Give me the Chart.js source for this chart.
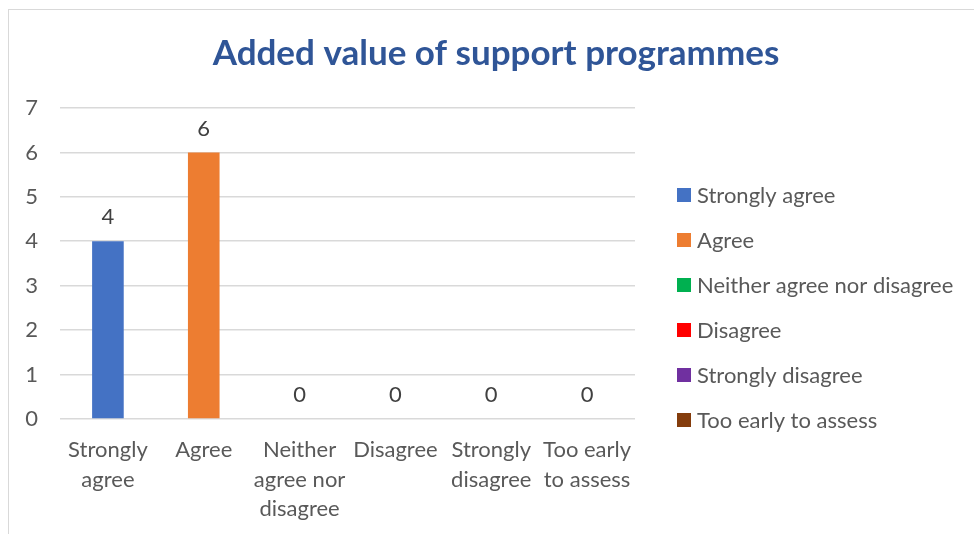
<!DOCTYPE html>
<html lang="en">
<head>
<meta charset="UTF-8">
<title>Added value of support programmes</title>
<script src="https://cdn.jsdelivr.net/npm/chart.js"></script>
<style>
  html, body { margin: 0; padding: 0; background: #fff; overflow: hidden; }
  .wrap { position: relative; width: 974px; height: 534px; }
  .frame { position: absolute; left: 8px; top: 9px; width: 1000px; height: 600px; border: 1px solid #d9d9d9; pointer-events: none; }
</style>
</head>
<body>
<div class="wrap">
  <canvas id="grafico" width="974" height="534"></canvas>
  <div class="frame"></div>
</div>
<script>
const categories = ['Strongly agree', 'Agree', 'Neither agree nor disagree', 'Disagree', 'Strongly disagree', 'Too early to assess'];
const axisLabels = [['Strongly', 'agree'], ['Agree'], ['Neither', 'agree nor', 'disagree'], ['Disagree'], ['Strongly', 'disagree'], ['Too early', 'to assess']];
const values = [4, 6, 0, 0, 0, 0];
const colors = ['#4472C4', '#ED7D31', '#00B050', '#FF0000', '#7030A0', '#843C0C'];
const yTicks = [0, 1, 2, 3, 4, 5, 6, 7];

const fontFamily = 'Lato, sans-serif';
const textColor = '#595959';
const fontSize = 22;

// value printed above each bar
const valueLabels = {
  id: 'valueLabels',
  afterDatasetsDraw(chart) {
    const ctx = chart.ctx;
    const meta = chart.getDatasetMeta(0);
    ctx.save();
    ctx.font = fontSize + 'px ' + fontFamily;
    ctx.fillStyle = '#404040';
    ctx.textAlign = 'center';
    ctx.textBaseline = 'middle';
    meta.data.forEach((bar, i) => {
      ctx.fillText(values[i], bar.x, bar.y - 24);
    });
    ctx.restore();
  }
};

// one legend row per category, drawn in the space the spacer axis keeps free
const sideLegend = {
  id: 'sideLegend',
  afterDraw(chart) {
    const ctx = chart.ctx;
    const area = chart.chartArea;
    const x = area.right + 42;
    ctx.save();
    ctx.font = fontSize + 'px ' + fontFamily;
    ctx.textAlign = 'left';
    ctx.textBaseline = 'middle';
    categories.forEach((c, i) => {
      const y = area.top + 87 + i * 45;
      ctx.fillStyle = colors[i];
      ctx.fillRect(x, y - 7, 14, 14);
      ctx.fillStyle = textColor;
      ctx.fillText(c, x + 20, y + 1);
    });
    ctx.restore();
  }
};

const ctx = document.getElementById('grafico');

new Chart(ctx, {
  type: 'bar',
  data: {
    labels: axisLabels,
    datasets: [{
      data: values,
      backgroundColor: colors,
      borderWidth: 0,
      barPercentage: 1,
      categoryPercentage: 0.33
    }]
  },
  options: {
    responsive: false,
    animation: false,
    layout: { padding: { left: 18, right: 0, top: 0, bottom: -6 } },
    plugins: {
      tooltip: { enabled: false },
      legend: { display: false },
      title: {
        display: true,
        text: 'Added value of support programmes',
        color: '#2F5597',
        font: { family: fontFamily, size: 35, weight: 'bold' },
        padding: { top: 33, bottom: 33 }
      }
    },
    scales: {
      x: {
        grid: { display: false, drawTicks: false },
        border: { display: false },
        ticks: {
          color: textColor,
          font: { family: fontFamily, size: fontSize, lineHeight: 1.32 },
          padding: 17,
          maxRotation: 0,
          autoSkip: false
        }
      },
      y: {
        min: 0,
        max: 7,
        afterBuildTicks: axis => { axis.ticks = yTicks.map(v => ({ value: v })); },
        afterFit: axis => { axis.width = 42; },
        grid: { color: '#d9d9d9', lineWidth: 1.5, drawTicks: false },
        border: { display: false },
        ticks: {
          color: textColor,
          font: { family: fontFamily, size: fontSize },
          padding: 22
        }
      },
      spacer: {
        position: 'right',
        grid: { display: false, drawTicks: false },
        border: { display: false },
        ticks: { display: false },
        afterFit: axis => { axis.width = 339; }
      }
    }
  },
  plugins: [valueLabels, sideLegend]
});
</script>
</body>
</html>
